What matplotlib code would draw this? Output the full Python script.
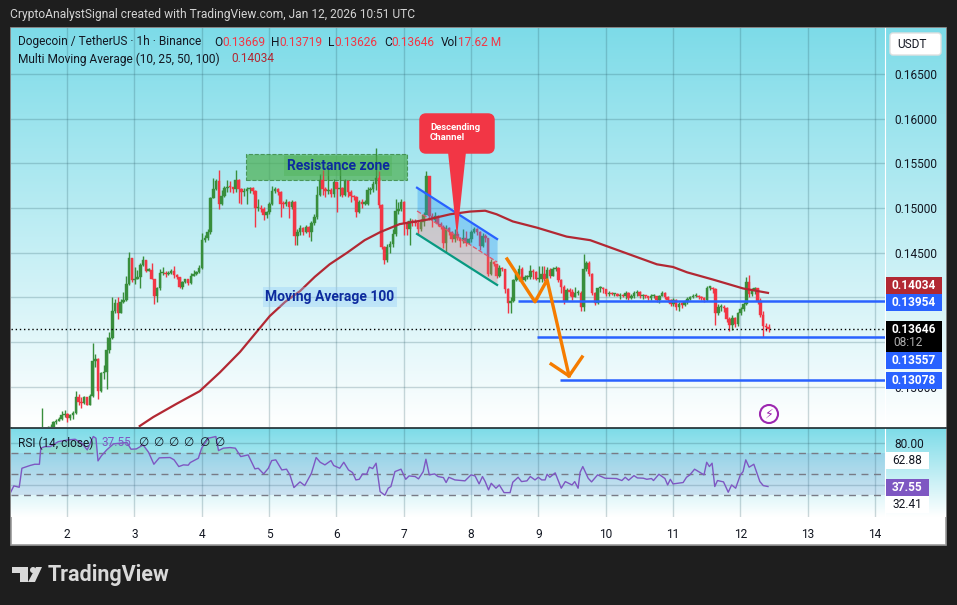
import numpy as np
import matplotlib
matplotlib.use("Agg")
import matplotlib.pyplot as plt
from matplotlib.patches import Rectangle, FancyBboxPatch, Polygon, Circle

plt.rcParams['font.family'] = ['Roboto', 'DejaVu Sans']

# hourly candles
closes_a = [.1252,.1250,.1253,.1255,.1260,.1262,.1264,.1268,.1270,.1265,
            .1268,.1271,.1288,.1283,.1282,.1288,.1280,.1290,.1329,.1331,
            .1295,.1315,.1317,.1341,.1354,.1385,.1394,.1383,.1395,.1397,
            .1415,.1444,.1419,.1421,.1423,.1436,.1442,.1430,.1431,.1421,
            .1401,.1410,.1427,.1427,.1426,.1427,.1430,.1425,.1423,.1412,
            .1417,.1420,.1416,.1424,.1426,.1428,.1433,.1464,.1467,.1473,
            .1511,.1521,.1530,.1504]
highs_a = [.1276,.1254,.1256,.1258,.1262,.1264,.1266,.1273,.1274,.1271,
           .1270,.1273,.1295,.1292,.1288,.1290,.1288,.1292,.1349,.1337,
           .1332,.1317,.1324,.1356,.1361,.1400,.1398,.1400,.1398,.1406,
           .1424,.1451,.1444,.1434,.1431,.1438,.1446,.1442,.1433,.1439,
           .1421,.1412,.1432,.1434,.1430,.1429,.1432,.1435,.1426,.1423,
           .1418,.1421,.1420,.1427,.1431,.1430,.1436,.1472,.1470,.1476,
           .1512,.1534,.1533,.1543]
lows_a = [.1240,.1244,.1248,.1250,.1250,.1258,.1262,.1263,.1266,.1260,
          .1263,.1264,.1270,.1280,.1276,.1281,.1279,.1279,.1288,.1322,
          .1286,.1294,.1309,.1297,.1338,.1353,.1383,.1376,.1382,.1394,
          .1396,.1414,.1417,.1415,.1421,.1411,.1435,.1428,.1429,.1420,
          .1393,.1395,.1408,.1425,.1423,.1425,.1426,.1422,.1421,.1411,
          .1409,.1416,.1414,.1415,.1424,.1425,.1427,.1432,.1462,.1464,
          .1471,.1511,.1520,.1499]

closes_b = [.1514,.1522,.1524,.1523,.1521,.1531,.1521,.1518,.1519,.1521,
            .1522,.1519,.1500,.1500,.1499,.1492,.1495,.1505,.1519,.1521,
            .1518,.1505,.1504,.1507,.1501,.1507,.1469,.1473,.1478,.1473,
            .1479,.1473,.1483,.1490,.1515,.1531,.1521,.1519,.1520,.1516,
            .1529,.1521,.1522,.1515,.1530,.1518,.1513,.1512,.1495,.1507,
            .1505,.1505,.1520,.1521,.1527,.1534,.1503,.1456,.1442,
            .1456,.1460,.1471,.1497,.1499,.1507,.1483,.1476,.1486,.1484,
            .1483,.1477,.1484,.1492]
highs_b = [.1520,.1525,.1531,.1530,.1524,.1543,.1532,.1522,.1522,.1524,
           .1524,.1523,.1520,.1510,.1503,.1501,.1497,.1507,.1525,.1524,
           .1522,.1519,.1508,.1510,.1508,.1509,.1508,.1476,.1481,.1479,
           .1481,.1480,.1486,.1493,.1525,.1538,.1543,.1523,.1546,.1522,
           .1532,.1529,.1546,.1524,.1533,.1531,.1520,.1515,.1513,.1509,
           .1510,.1509,.1523,.1523,.1530,.1567,.1541,.1505,.1458,
           .1460,.1463,.1476,.1510,.1507,.1510,.1508,.1485,.1489,.1488,
           .1488,.1486,.1488,.1496]
lows_b = [.1503,.1512,.1518,.1518,.1517,.1518,.1506,.1505,.1514,.1505,
          .1517,.1516,.1479,.1497,.1495,.1487,.1489,.1493,.1503,.1517,
          .1515,.1490,.1500,.1502,.1489,.1499,.1459,.1459,.1470,.1470,
          .1472,.1468,.1463,.1481,.1488,.1513,.1515,.1512,.1516,.1512,
          .1512,.1495,.1514,.1512,.1513,.1512,.1507,.1509,.1490,.1494,
          .1500,.1503,.1503,.1516,.1518,.1520,.1500,.1454,.1437,
          .1440,.1450,.1456,.1469,.1493,.1497,.1470,.1470,.1459,.1480,
          .1480,.1470,.1474,.1480]

closes_c = [.1536,.1491,.1487,.1491,.1482,.1479,.1461,.1478,.1473,.1465,
            .1471,.1467,.1463,.1467,.1461,.1465,.1473,.1476,.1473,.1458,
            .1469,.1467,.1426,.1440,.1437,.1424,.1433,.1432,.1409,.1394,
            .1396,.1419,.1426,.1432,.1419,.1423,.1423,.1430,.1428,.1421,
            .1421,.1426,.1421,.1431,.1424,.1432,.1433,.1419,.1412,.1396,
            .1408,.1406,.1400,.1405,.1405,.1389,.1432,.1439,.1426,.1405,
            .1394,.1410,.1411,.1409,.1404,.1405,.1404,.1404,.1402,.1403,.1401,
            .1405,.1399,.1402,.1405,.1406,.1402,.1402,.1401,.1399,.1402,
            .1402,.1397,.1402,.1405,.1400,.1397,.1393,.1397,.1389,.1393,
            .1392,.1395,.1398,.1400,.1402,.1402,.1400,.1399,.1397,.1411,
            .1411,.1409,.1382,.1389,.1389,.1388,.1376,.1369,.1377,.1370,
            .1382,.1387,.1393,.1417,.1404,.1408,.1410,.1396,.1380,.1368,
            .1367,.1365]
highs_c = [.1541,.1536,.1494,.1496,.1492,.1484,.1481,.1481,.1479,.1474,
           .1476,.1474,.1468,.1476,.1474,.1467,.1475,.1479,.1478,.1474,
           .1472,.1471,.1466,.1443,.1441,.1437,.1436,.1434,.1432,.1411,
           .1400,.1420,.1428,.1436,.1434,.1425,.1425,.1436,.1432,.1430,
           .1435,.1435,.1435,.1434,.1433,.1434,.1435,.1434,.1420,.1414,
           .1411,.1411,.1409,.1412,.1408,.1407,.1448,.1441,.1441,.1427,
           .1406,.1411,.1413,.1412,.1409,.1407,.1406,.1405,.1405,.1405,.1404,
           .1407,.1406,.1404,.1407,.1408,.1407,.1404,.1403,.1402,.1404,
           .1404,.1402,.1403,.1407,.1406,.1402,.1398,.1399,.1398,.1395,
           .1395,.1397,.1400,.1402,.1404,.1405,.1403,.1402,.1400,.1413,
           .1413,.1412,.1410,.1393,.1393,.1391,.1389,.1378,.1380,.1378,
           .1384,.1389,.1395,.1423,.1425,.1411,.1412,.1411,.1399,.1385,
           .1371,.1370]
lows_c = [.1533,.1487,.1479,.1484,.1480,.1476,.1455,.1451,.1470,.1462,
          .1462,.1464,.1456,.1461,.1458,.1460,.1462,.1472,.1470,.1453,
          .1456,.1462,.1424,.1425,.1435,.1422,.1423,.1430,.1405,.1382,
          .1382,.1395,.1418,.1418,.1417,.1418,.1420,.1421,.1421,.1419,
          .1417,.1417,.1418,.1420,.1422,.1424,.1430,.1417,.1405,.1393,
          .1396,.1402,.1397,.1400,.1403,.1385,.1385,.1430,.1424,.1403,
          .1391,.1393,.1406,.1405,.1402,.1402,.1403,.1402,.1402,.1398,.1400,
          .1398,.1397,.1398,.1399,.1402,.1399,.1398,.1399,.1397,.1397,
          .1399,.1395,.1394,.1401,.1398,.1395,.1390,.1390,.1386,.1385,
          .1388,.1390,.1393,.1397,.1399,.1400,.1398,.1397,.1395,.1396,
          .1408,.1405,.1369,.1380,.1385,.1384,.1372,.1362,.1364,.1367,
          .1368,.1380,.1385,.1392,.1400,.1402,.1404,.1393,.1378,.1356,
          .1362,.1361]

ma_days = [3.08,3.28,3.63,3.97,4.27,4.57,4.79,5.01,5.24,5.46,5.68,5.90,6.16,6.42,6.65,6.94,
           7.35,7.69,7.98,8.21,8.38,8.62,8.98,9.42,9.77,10.21,10.76,11.0,11.21,11.59,12.04,12.41]
ma_vals = [.1256,.1266,.1281,.1295,.1316,.1339,.1359,.1379,.1395,.1407,.1423,.1437,.1450,.1464,.1473,.1482,
           .1487,.1493,.1496,.1497,.1493,.1485,.1478,.1468,.1464,.1452,.1437,.1434,.1428,.1420,.1410,.1405]

rsi_days = [1.16,1.21,1.29,1.33,1.45,1.52,1.59,1.61,1.67,1.75,1.87,2.02,2.12,2.22,2.30,2.39,2.43,2.46,2.51,2.59,
            2.69,2.89,2.95,3.03,3.13,3.21,3.29,3.37,3.53,3.59,3.66,3.73,3.80,3.83,3.95,4.0,4.03,4.10,4.21,4.25,
            4.32,4.42,4.50,4.58,4.69,4.79,4.84,4.92,4.99,5.04,5.10,5.19,5.26,5.31,5.37,5.46,5.53,5.63,5.70,5.76,
            5.83,5.92,5.96,6.05,6.11,6.18,6.24,6.29,6.34,6.39,6.45,6.49,6.54,6.59,6.65,6.72,6.77,6.81,6.87,6.96,
            7.03,7.08,7.17,7.22,7.29,7.33,7.38,7.46,7.51,7.59,7.63,7.67,7.76,7.91,8.0,8.06,8.12,
            8.17,8.21,8.26,8.30,8.37,8.42,8.49,8.58,8.62,8.70,8.75,8.83,8.88,8.95,9.0,9.05,9.10,9.13,9.17,9.25,
            9.34,9.40,9.50,9.54,9.59,9.62,9.66,9.74,9.79,9.88,9.99,10.16,10.24,10.29,10.34,10.42,10.47,10.56,10.61,10.68,
            10.71,10.79,10.88,10.92,10.96,11.0,11.15,11.2,11.25,11.32,11.46,11.5,11.54,11.58,11.62,11.66,11.75,11.82,11.87,11.93,
            12.0,12.04,12.08,12.13,12.2,12.29,12.34,12.41]
rsi_vals = [32.5,38.9,37.6,55.7,58.3,59.5,59.5,74.8,76.3,76.3,81,82.7,83.3,79.5,73.2,85.9,84.3,62.7,67.5,73.2,
            78.9,80.2,73.8,74.1,77.9,71,59.5,65.6,65.9,63.7,57.3,58.9,58.6,61.1,65.2,74.8,77.9,84.3,85.9,72.5,
            74.8,75.4,74.8,66.8,68.4,55.1,55.7,50.3,55.7,63,63.7,54.1,54.8,49.4,37.3,42.7,39.2,51,65.9,61.4,
            58.9,63,58.3,55.7,61.4,54.1,51.6,44.6,45.2,50.3,50,56.7,55.4,60.5,33.5,30,36.7,38.3,52.5,54.8,
            45.2,48.4,47.8,45.6,52.5,64.3,49.4,50.3,47.8,46.8,42.1,47.1,44.6,43.7,49.4,48.4,40.8,
            47.8,43,35.1,41.4,36.7,39.8,32.5,32.5,42.4,47.1,43,43.7,47.8,44.6,47.1,44.6,44.6,50,47.1,51.3,
            36.7,43,39.8,43,36.7,51.9,57.3,46.2,42.7,49.4,46.2,45.9,44,47.1,44.3,48.7,46.5,46.2,45.2,45.9,
            44,50,45.9,39.8,45.2,40.8,42.1,47.1,49.4,54.8,49.4,61.4,57.3,60.5,38.3,44,42.7,32.9,39.8,36.7,
            49.4,52.5,63.7,56.7,59.5,43,39.2,38.3]

price_ticks = [.130,.135,.140,.145,.150,.155,.160,.165]
price_labels = ['0.13000', '', '', '0.14500', '0.15000', '0.15500', '0.16000', '0.16500']
rsi_ticks = [40, 80]
day_ticks = [2,3,4,5,6,7,8,9,10,11,12,13,14]

# drawn levels and shapes, in day / price
zone_days = [4.66, 7.05]
zone_prices = [.1531, .1561]
channel_days = [7.198, 8.387]
channel_top = [.15227, .14653]
channel_mid = [.14967, .14396]
channel_low = [.1471, .14139]
level_prices = [.13954, .13557, .13078]
level_starts = [8.70, 8.98, 9.32]
arrow_days = [8.535, 8.95, 9.13, 9.456]
arrow_prices = [.1443, .1395, .14195, .1312]
head_days = [9.19, 9.456, 9.65]
head_prices = [.13254, .1312, .13333]
last_close = .13646

GREEN = '#388e3c'
RED = '#f23645'
BLUE = '#2962ff'
DARK = '#1e1e1e'
GRID = '#2a5a66'
FS = 8.6

def px_rect(x0, y0, x1, y1):
    # figure fraction box from pixel edges, y counted from the top
    return [x0 / 957, 1 - y1 / 605, (x1 - x0) / 957, (y1 - y0) / 605]

closes = np.array(closes_a + closes_b + closes_c)
highs = np.array(highs_a + highs_b + highs_c)
lows = np.array(lows_a + lows_b + lows_c)
opens = np.r_[.1248, closes[:-1]]
days = 1.63 + np.arange(len(closes)) / 24

fig = plt.figure(figsize=(9.57, 6.05), dpi=100, facecolor=DARK)

# backdrop with the two gradients
bg = fig.add_axes([0, 0, 1, 1], zorder=0)
bg.axis('off')
grad = np.linspace(0, 1, 256).reshape(-1, 1)
top_col = np.array([0.49, 0.86, 0.91])
img = (top_col[None, None, :] * (1 - grad[..., None]) + grad[..., None])
bg.add_patch(Rectangle((10.5, 27.5), 935.5, 517, fc='white', ec='#9a9a9a', lw=1.2))
bg.imshow(img, extent=[11, 946, 427, 28], aspect='auto', zorder=1)
bg.imshow(img, extent=[11, 946, 517, 428], aspect='auto', zorder=1)
bg.set_xlim(0, 957)
bg.set_ylim(605, 0)

# main pane
ax = fig.add_axes(px_rect(11, 28, 885, 427), zorder=2, facecolor='none')
ax.set_xlim(1.168, 14.148)
ax.set_ylim(.12549, .17015)
ax.set_xticks(day_ticks)
ax.set_yticks(price_ticks)
ax.set_yticklabels(price_labels)
ax.yaxis.tick_right()
ax.tick_params(axis='y', length=0, pad=6.5, labelsize=FS, labelcolor='#131722')
ax.tick_params(axis='x', length=0, labelbottom=False)
ax.grid(True, color=GRID, alpha=0.24, lw=1)
ax.set_axisbelow(True)
for name, s in ax.spines.items():
    s.set_visible(False)
ax.spines['right'].set_visible(True)
ax.spines['right'].set_color('white')

# zone
ax.add_patch(Rectangle((zone_days[0], zone_prices[0]), zone_days[1] - zone_days[0], zone_prices[1] - zone_prices[0],
                       fc='#4caf50', alpha=0.7, ec='#2e7d32', ls='--', lw=0.8, zorder=2))

# candles
colors = np.where(closes >= opens, GREEN, RED)
ax.vlines(days, lows, highs, colors=colors, lw=1.0, zorder=3)
body_low = np.minimum(opens, closes)
body_h = np.maximum(np.abs(closes - opens), .00012)
ax.bar(days, body_h, bottom=body_low, width=0.9 / 24, color=colors, edgecolor=colors, lw=0.3, zorder=3)

# channel
ax.fill_between(channel_days, channel_mid, channel_top, color='#2196f3', alpha=0.35, lw=0, zorder=4)
ax.fill_between(channel_days, channel_low, channel_mid, color='#e57373', alpha=0.3, lw=0, zorder=4)
ax.plot(channel_days, channel_top, color=BLUE, lw=1.6, zorder=5)
ax.plot(channel_days, channel_mid, color='#e0566a', lw=0.9, ls='--', zorder=5)
ax.plot(channel_days, channel_low, color='#089981', lw=1.6, zorder=5)

# moving average 100
ax.plot(ma_days, ma_vals, color='#b22833', lw=1.6, zorder=6)

# levels and arrows
ax.axhline(last_close, color='black', lw=1, ls=(0, (1, 2)), zorder=6)
for p, s in zip(level_prices, level_starts):
    ax.hlines(p, s, 14.148, color=BLUE, lw=1.8, zorder=7)
ax.plot(arrow_days, arrow_prices, color='#f57c00', lw=2.4, zorder=8)
ax.plot(head_days, head_prices, color='#f57c00', lw=2.4, zorder=8)

# rsi pane
rs = fig.add_axes(px_rect(11, 428, 885, 517), zorder=2, facecolor='none')
rs.set_xlim(1.168, 14.148)
rs.set_ylim(9.3, 94)
rs.set_xticks(day_ticks)
rs.set_xticklabels([str(d) for d in day_ticks])
rs.set_yticks(rsi_ticks)
rs.set_yticklabels(['', '80.00'])
rs.yaxis.tick_right()
rs.tick_params(axis='y', length=0, pad=6.5, labelsize=FS, labelcolor='#131722')
rs.tick_params(axis='x', length=0, pad=8, labelsize=FS, labelcolor='#131722')
rs.grid(True, color=GRID, alpha=0.24, lw=1)
rs.set_axisbelow(True)
for name, s in rs.spines.items():
    s.set_visible(False)
rs.spines['right'].set_visible(True)
rs.spines['right'].set_color('white')
rs.axhspan(30, 70, color='#5c6bc0', alpha=0.14, lw=0)
for lvl in (70, 50, 30):
    rs.axhline(lvl, color='#787b86', lw=1, ls=(0, (5, 4)))
rd = np.array(rsi_days)
rv = np.array(rsi_vals)
rs.fill_between(rd, 70, rv, where=rv > 70, color='#4caf50', alpha=0.16, lw=0, interpolate=True)
rs.plot(rd, rv, color='#7e57c2', lw=1.0)

# texts and boxes in pixels on top
top = fig.add_axes([0, 0, 1, 1], zorder=5, facecolor='none')
top.set_xlim(0, 957)
top.set_ylim(605, 0)
top.axis('off')

def label(x, y, s, color='#131722', size=FS, **kw):
    top.text(x, y, s, color=color, fontsize=size, va='center', **kw)

def price_box(y0, y1, s, fc, x1=942, color='white', weight='bold'):
    top.add_patch(Rectangle((886, y0), x1 - 886, y1 - y0, fc=fc, lw=0))
    top.text((886 + x1) / 2, (y0 + y1) / 2, s, color=color, fontsize=FS, fontweight=weight, ha='center', va='center')

label(10, 14.5, 'CryptoAnalystSignal created with TradingView.com, Jan 12, 2026 10:51 UTC', color='#d4d4d4', size=8.65)
label(18, 42, 'Dogecoin / TetherUS · 1h · Binance')
for x, s in [(214, 'O'), (271, 'H'), (328, 'L'), (384, 'C'), (441, 'Vol')]:
    label(x, 42, s)
for x, s in [(222, '0.13669'), (279, '0.13719'), (334, '0.13626'), (391, '0.13646'), (458, '17.62 M')]:
    label(x, 42, s, color=RED)
label(18, 59, 'Multi Moving Average (10, 25, 50, 100)')
label(231, 59, '0.14034', color='#b22833')
label(18, 443, 'RSI (14, close)')
label(102, 443, '37.55', color='#7e57c2')
for x in (143, 158, 173, 188, 204, 219):
    label(x, 443, '∅', ha='center')

top.text(338, 166, 'Resistance zone', color='#0d2b9e', fontsize=10, fontweight='bold', ha='center', va='center',
         bbox=dict(fc='#4caf50', ec='none', alpha=0.35, pad=2))
top.text(330, 297, 'Moving Average 100', color='#0d2b9e', fontsize=10, fontweight='bold', ha='center', va='center',
         bbox=dict(fc='#90caf9', ec='none', alpha=0.35, pad=2))

# callout
top.add_patch(FancyBboxPatch((421, 115), 72, 37, boxstyle='round,pad=0,rounding_size=5',
                             fc=RED, ec=RED, lw=2.5, joinstyle='round'))
top.add_patch(Polygon([(448, 152), (466, 152), (457, 237)], fc=RED, lw=0))
top.text(430, 128, 'Descending', color='white', fontsize=6.8, fontweight='bold', va='center')
top.text(430, 137.5, 'Channel', color='white', fontsize=6.8, fontweight='bold', va='center')

# price scale
top.add_patch(FancyBboxPatch((890, 33), 51, 22, boxstyle='round,pad=0,rounding_size=3', fc='white', ec='#e0e0e0', lw=1))
top.text(912, 45, 'USDT', color='#131722', fontsize=FS, ha='center', va='center')
price_box(277, 294, '0.14034', '#b22833')
price_box(294, 311, '0.13954', BLUE)
top.add_patch(Rectangle((886, 321), 56, 31, fc='black', lw=0))
top.text(914, 329.5, '0.13646', color='white', fontsize=FS, fontweight='bold', ha='center', va='center')
top.text(908, 343, '08:12', color='#b0b0b0', fontsize=FS, ha='center', va='center')
price_box(352, 369, '0.13557', BLUE)
price_box(372, 389, '0.13078', BLUE)
price_box(452, 468.5, '62.88', 'white', x1=929, color='#131722', weight='normal')
price_box(479, 496, '37.55', '#7e57c2', x1=929)
price_box(496, 513, '32.41', 'white', x1=929, color='#131722', weight='normal')

# lightning mark
top.add_patch(Circle((769, 414), 9, fc='white', ec='#9c27b0', lw=1.5))
top.text(769, 414.5, '⚡', color='#9c27b0', fontsize=9, ha='center', va='center', family='DejaVu Sans')

# pane separator
top.plot([11, 946], [427.5, 427.5], color='#1e2a2e', lw=1.2)

# logo
LOGO = '#d9d9d9'
top.add_patch(Polygon([(12, 567), (28, 567), (28, 582), (20, 582), (20, 573), (12, 573)], fc=LOGO, lw=0))
top.add_patch(Circle((33, 570), 3, fc=LOGO, lw=0))
top.add_patch(Polygon([(35, 582), (28, 582), (36, 567), (42, 567)], fc=LOGO, lw=0))
top.text(48, 575, 'TradingView', color=LOGO, fontsize=15.5, fontweight='bold', va='center')

fig.savefig('out.png', dpi=100, facecolor=DARK)
